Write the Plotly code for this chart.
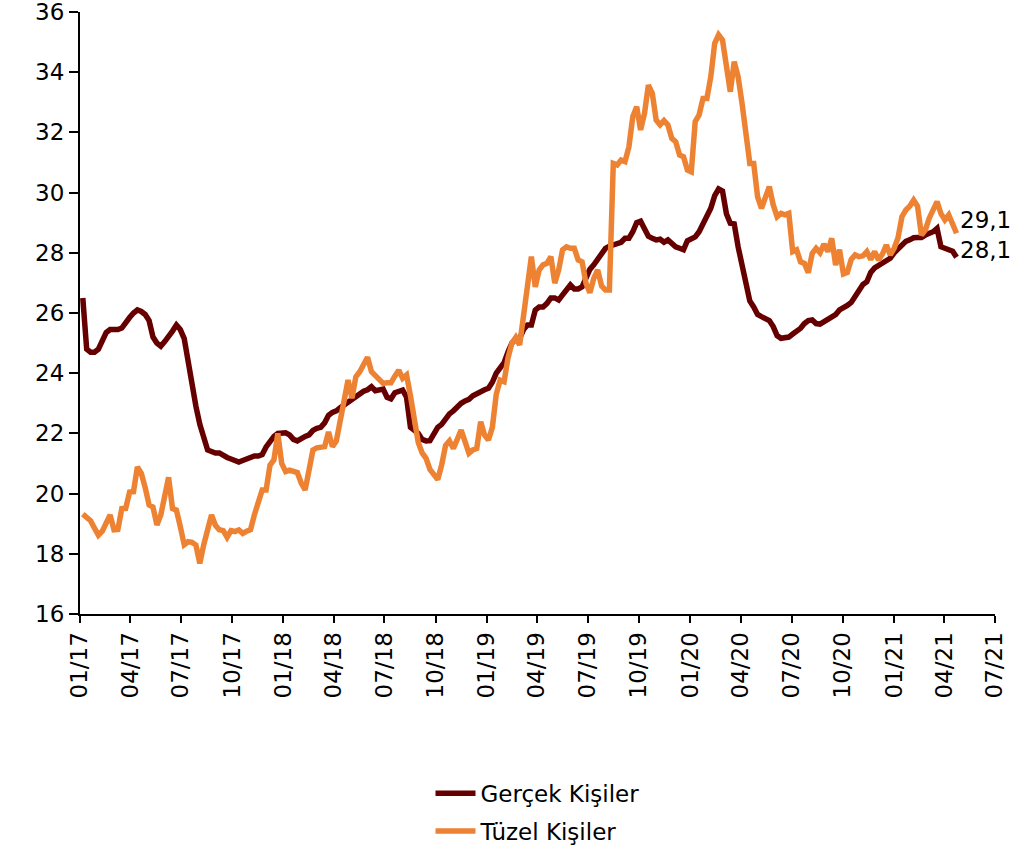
import pandas as pd
import plotly.graph_objects as go

# weekly observations, first week ending 2017-01-06
START = "2017-01-06"

GERCEK = [
    26.5, 24.8, 24.7, 24.7, 24.8, 25.1, 25.35, 25.45, 25.45, 25.45,
    25.5, 25.7, 25.85, 26.0, 26.1, 26.05, 25.95, 25.75, 25.2, 25.0,
    24.9, 25.05, 25.2, 25.4, 25.6, 25.45, 25.15, 24.3, 23.6, 22.9,
    22.3, 21.8, 21.45, 21.4, 21.35, 21.35, 21.25, 21.2, 21.15, 21.1,
    21.05, 21.1, 21.15, 21.2, 21.25, 21.25, 21.3, 21.55, 21.75, 21.9,
    22.0, 22.0, 22.02, 21.95, 21.8, 21.75, 21.85, 21.9, 21.95, 22.1,
    22.17, 22.2, 22.35, 22.6, 22.7, 22.75, 22.85, 22.95, 23.05, 23.15,
    23.2, 23.3, 23.4, 23.45, 23.55, 23.42, 23.45, 23.47, 23.2, 23.15,
    23.35, 23.4, 23.44, 23.2, 22.2, 22.1, 22.0, 21.8, 21.75, 21.76,
    22.0, 22.2, 22.3, 22.5, 22.65, 22.75, 22.9, 23.0, 23.08, 23.13,
    23.25, 23.33, 23.4, 23.45, 23.5, 23.7, 24.0, 24.16, 24.35, 24.7,
    25.0, 25.12, 25.16, 25.45, 25.6, 25.6, 26.1, 26.2, 26.2, 26.32,
    26.5, 26.5, 26.43, 26.6, 26.76, 26.93, 26.8, 26.8, 26.87, 27.2,
    27.45, 27.6, 27.8, 28.0, 28.15, 28.22, 28.26, 28.3, 28.35, 28.48,
    28.48, 28.7, 29.0, 29.05, 28.78, 28.55, 28.48, 28.43, 28.45, 28.35,
    28.43, 28.3, 28.2, 28.15, 28.1, 28.4, 28.45, 28.53, 28.7, 28.95,
    29.26, 29.48, 29.9, 30.12, 30.05, 29.3, 28.98, 28.96, 28.2, 27.6,
    26.9, 26.4, 26.2, 25.95, 25.88, 25.82, 25.75, 25.55, 25.25, 25.16,
    25.16, 25.2, 25.3, 25.4, 25.49, 25.65, 25.75, 25.77, 25.65, 25.63,
    25.71, 25.75, 25.82, 25.95, 26.1, 26.16, 26.25, 26.35, 26.55, 26.8,
    26.95, 27.04, 27.35, 27.5, 27.57, 27.65, 27.75, 27.82, 28.0, 28.15,
    28.26, 28.38, 28.43, 28.5, 28.51, 28.51, 28.59, 28.63, 28.7, 28.81,
    28.2, 28.15, 28.1, 28.05, 27.85,
]

TUZEL = [
    19.32, 19.2, 19.1, 18.85, 18.62, 18.75, 19.05, 19.29, 18.8, 18.81,
    19.5, 19.51, 20.05, 20.06, 20.89, 20.67, 20.2, 19.62, 19.55, 18.96,
    19.29, 20.0, 20.54, 19.5, 19.45, 18.9, 18.3, 18.4, 18.38, 18.29,
    17.68, 18.3, 18.8, 19.29, 18.95, 18.8, 18.77, 18.55, 18.77, 18.74,
    18.79, 18.68, 18.75, 18.8, 19.3, 19.8, 20.12, 20.12, 20.95, 21.12,
    22.0, 21.0, 20.73, 20.78, 20.75, 20.7, 20.35, 20.12, 20.78, 21.45,
    21.52, 21.56, 21.56, 22.05, 21.56, 21.75, 22.5, 23.2, 23.77, 23.17,
    23.88, 24.05, 24.3, 24.53, 24.05, 23.94, 23.8, 23.66, 23.68, 23.68,
    23.9, 24.1, 23.83, 23.94, 23.25, 22.5, 21.7, 21.35, 21.17, 20.8,
    20.6, 20.47, 20.95, 21.6, 21.75, 21.5, 21.8, 22.11, 21.73, 21.34,
    21.45, 21.5, 22.39, 21.95, 21.78, 22.2, 23.3, 23.77, 23.72, 24.5,
    25.0, 25.19, 24.94, 25.93, 26.99, 27.87, 26.87, 27.43, 27.6, 27.65,
    27.87, 26.99, 27.43, 28.1, 28.2, 28.15, 28.15, 27.76, 27.7, 26.99,
    26.67, 27.15, 27.43, 26.9, 26.76, 26.76, 30.97, 30.92, 31.08, 31.03,
    31.52, 32.52, 32.85, 32.08, 32.63, 33.57, 33.3, 32.41, 32.25, 32.39,
    32.25, 31.8, 31.69, 31.25, 31.19, 30.75, 30.69, 32.36, 32.58, 33.13,
    33.13, 33.85, 34.96, 35.24, 35.07, 34.18, 33.35, 34.35, 33.85, 32.97,
    31.97, 30.97, 30.97, 29.86, 29.48, 29.86, 30.2, 29.59, 29.2, 29.31,
    29.26, 29.31, 28.04, 28.1, 27.7, 27.65, 27.34, 27.98, 28.15, 28.0,
    28.29, 28.04, 28.48, 27.59, 28.1, 27.3, 27.35, 27.78, 27.93, 27.87,
    27.9, 28.04, 27.78, 28.04, 27.76, 27.96, 28.26, 27.93, 28.15, 28.5,
    29.2, 29.42, 29.55, 29.75, 29.55, 28.59, 28.76, 29.15, 29.42, 29.7,
    29.3, 29.09, 29.26, 28.92, 28.65,
]

NAMES = ["Gerçek Kişiler", "Tüzel Kişiler"]
END_LABELS = ["28,1", "29,1"]
COLORS = ["#660000", "#EE8233"]
FONT = "DejaVu Sans"
FS = 23

dates = pd.date_range(START, periods=len(GERCEK), freq="7D")

fig = go.Figure()
for name, vals, col in zip(NAMES, [GERCEK, TUZEL], COLORS):
    fig.add_trace(go.Scatter(x=dates, y=vals, mode="lines", name=name, legendgroup=name,
                             line=dict(color=col, width=5.5)))

# end-of-series value labels
for txt, yv in zip(END_LABELS, [28.1, 29.1]):
    fig.add_annotation(x=dates[-1], y=yv, text=txt, showarrow=False,
                       xanchor="left", xshift=1, font=dict(size=FS, color="black"))

fig.update_layout(
    width=1036, height=852, plot_bgcolor="white", paper_bgcolor="white",
    margin=dict(l=80, r=41, t=12, b=238, autoexpand=False),
    font=dict(family=FONT, size=FS, color="black"),
    showlegend=True,
    legend=dict(orientation="v", x=0.5, xanchor="center", y=-0.262, yanchor="top",
                font=dict(size=FS), tracegroupgap=5, itemwidth=40),
)
fig.update_xaxes(range=["2017-01-01", "2021-07-01"], dtick="M3", tick0="2017-01-01",
                 tickformat="%m/%y", tickangle=-90, showline=True, linecolor="black",
                 linewidth=2, ticks="outside", ticklen=7, tickwidth=2, tickcolor="black",
                 showgrid=False, zeroline=False, ticklabeloverflow="allow")
fig.update_yaxes(range=[16, 36], dtick=2, showline=True, linecolor="black", linewidth=2,
                 ticks="outside", ticklen=9, tickwidth=2, tickcolor="black",
                 showgrid=False, zeroline=False, ticklabeloverflow="allow")

# drop the default page margin so the figure fills the window
fig.write_html("out.html", config={"displayModeBar": False},
               post_script="document.body.style.margin='0';")
